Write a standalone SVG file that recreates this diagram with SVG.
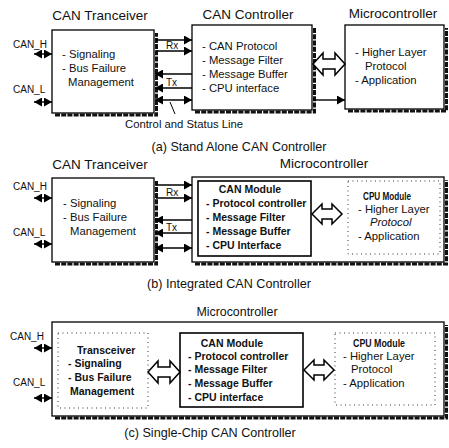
<svg xmlns="http://www.w3.org/2000/svg" width="449" height="448" viewBox="0 0 449 448">
<defs>
<marker id="ah" markerUnits="userSpaceOnUse" markerWidth="8" markerHeight="9" refX="8" refY="4.5" orient="auto-start-reverse">
<path d="M0,0 L8,4.5 L0,9 z" fill="#000"/>
</marker>
</defs>
<style>
text{font-family:"Liberation Sans",Arial,sans-serif;fill:#111}
.title{font-size:13.5px}
.cap{font-size:12.6px}
.body{font-size:11.3px}
.bold{font-size:10.5px;font-weight:bold}
.sig{font-size:10px}
.box{fill:#fff;stroke:#000;stroke-width:1.3}
.inner{fill:#fff;stroke:#000;stroke-width:1.6}
.dot{fill:none;stroke:#333;stroke-width:1;stroke-dasharray:1 3.5}
.shadow{fill:none;stroke:#111;stroke-width:3;stroke-dasharray:5 1.2}
.ln{stroke:#000;stroke-width:1.4;fill:none}
.blk{fill:#fff;stroke:#000;stroke-width:1.5;stroke-linejoin:miter}
</style>
<rect width="449" height="448" fill="#fff"/>

<!-- Panel (a) -->
<g id="a-transceiver">
<path class="shadow" d="M55,115 H156.5 V33"/>
<rect class="box" x="52" y="30" width="102" height="83"/>
<text class="title" x="100" y="20" text-anchor="middle">CAN Tranceiver</text>
<text class="body" x="62" y="58">- Signaling</text>
<text class="body" x="62" y="72">- Bus Failure</text>
<text class="body" x="68" y="86">Management</text>
</g>
<g id="a-controller">
<path class="shadow" d="M195,112 H314.5 V28"/>
<rect class="box" x="192" y="25" width="120" height="85"/>
<text class="title" x="248" y="19" text-anchor="middle">CAN Controller</text>
<text class="body" x="202" y="50">- CAN Protocol</text>
<text class="body" x="202" y="64">- Message Filter</text>
<text class="body" x="202" y="78">- Message Buffer</text>
<text class="body" x="202" y="92">- CPU interface</text>
</g>
<g id="a-micro">
<path class="shadow" d="M348,111 H446.5 V28"/>
<rect class="box" x="345" y="25" width="99" height="84"/>
<text class="title" x="393" y="18" text-anchor="middle">Microcontroller</text>
<text class="body" x="355" y="56">- Higher Layer</text>
<text class="body" x="365" y="70">Protocol</text>
<text class="body" x="355" y="84">- Application</text>
</g>
<text class="sig" x="13" y="48">CAN_H</text>
<text class="sig" x="13" y="93">CAN_L</text>
<text class="sig" x="166" y="49">Rx</text>
<text class="sig" x="166" y="86">Tx</text>
<text class="body" x="125" y="128">Control and Status Line</text>
<text class="cap" x="239" y="151" text-anchor="middle">(a) Stand Alone CAN Controller</text>

<!-- Panel (b) -->
<g id="b-transceiver">
<path class="shadow" d="M55,264 H156.5 V181"/>
<rect class="box" x="52" y="178" width="102" height="84"/>
<text class="title" x="100" y="169" text-anchor="middle">CAN Tranceiver</text>
<text class="body" x="63" y="207">- Signaling</text>
<text class="body" x="63" y="221">- Bus Failure</text>
<text class="body" x="70" y="235">Management</text>
</g>
<g id="b-micro">
<path class="shadow" d="M195,264 H446.5 V180"/>
<rect class="box" x="192" y="177" width="252" height="85"/>
<text class="title" x="324" y="168" text-anchor="middle">Microcontroller</text>
</g>
<g id="b-canmodule">
<rect class="inner" x="198" y="181" width="113" height="75"/>
<text class="bold" x="250" y="193" text-anchor="middle">CAN Module</text>
<text class="bold" x="206" y="207">- Protocol controller</text>
<text class="bold" x="206" y="221">- Message Filter</text>
<text class="bold" x="206" y="235">- Message Buffer</text>
<text class="bold" x="206" y="249">- CPU Interface</text>
</g>
<g id="b-cpumodule">
<rect class="dot" x="348" y="181" width="92" height="73"/>
<text class="bold" x="387" y="200" text-anchor="middle" textLength="48" lengthAdjust="spacingAndGlyphs">CPU Module</text>
<text class="body" x="358" y="213">- Higher Layer</text>
<text class="body" x="370" y="226" font-style="italic">Protocol</text>
<text class="body" x="358" y="240">- Application</text>
</g>
<text class="sig" x="13" y="190">CAN_H</text>
<text class="sig" x="13" y="236">CAN_L</text>
<text class="sig" x="166" y="196">Rx</text>
<text class="sig" x="166" y="231">Tx</text>
<text class="cap" x="229" y="288" text-anchor="middle">(b) Integrated CAN Controller</text>

<!-- Panel (c) -->
<g id="c-micro">
<path class="shadow" d="M55,418 H446.5 V325"/>
<rect class="box" x="52" y="322" width="392" height="94"/>
<text class="title" x="237" y="316" text-anchor="middle" style="font-size:12.4px">Microcontroller</text>
</g>
<g id="c-transceiver">
<rect class="dot" x="58" y="333" width="90" height="75"/>
<text class="bold" x="77" y="354">Transceiver</text>
<text class="bold" x="68" y="367">- Signaling</text>
<text class="bold" x="68" y="381">- Bus Failure</text>
<text class="bold" x="70" y="395">Management</text>
</g>
<g id="c-canmodule">
<rect class="inner" x="180" y="333" width="123" height="74"/>
<text class="bold" x="232" y="347" text-anchor="middle">CAN Module</text>
<text class="bold" x="188" y="360">- Protocol controller</text>
<text class="bold" x="188" y="373">- Message Filter</text>
<text class="bold" x="188" y="387">- Message Buffer</text>
<text class="bold" x="188" y="401">- CPU interface</text>
</g>
<g id="c-cpumodule">
<rect class="dot" x="335" y="333" width="100" height="72"/>
<text class="bold" x="379" y="347" text-anchor="middle" textLength="52" lengthAdjust="spacingAndGlyphs">CPU Module</text>
<text class="body" x="343" y="360">- Higher Layer</text>
<text class="body" x="351" y="373">Protocol</text>
<text class="body" x="343" y="387">- Application</text>
</g>
<text class="sig" x="10" y="340">CAN_H</text>
<text class="sig" x="13" y="386">CAN_L</text>
<text class="cap" x="210" y="437" text-anchor="middle">(c) Single-Chip CAN Controller</text>

<!-- Connectors -->
<g id="connectors">
<!-- (a) -->
<line class="ln" x1="34" y1="54" x2="52" y2="54" marker-start="url(#ah)" marker-end="url(#ah)"/>
<line class="ln" x1="34" y1="102" x2="52" y2="102" marker-start="url(#ah)" marker-end="url(#ah)"/>
<line class="ln" x1="156" y1="40" x2="192" y2="40" marker-end="url(#ah)"/>
<line class="ln" x1="156" y1="51" x2="192" y2="51" marker-end="url(#ah)"/>
<line class="ln" x1="192" y1="74" x2="155" y2="74" marker-end="url(#ah)"/>
<line class="ln" x1="192" y1="88" x2="155" y2="88" marker-end="url(#ah)"/>
<line class="ln" x1="155" y1="100" x2="192" y2="100" marker-start="url(#ah)" marker-end="url(#ah)"/>
<line class="ln" x1="313" y1="100" x2="345" y2="100" marker-end="url(#ah)"/>
<line class="ln" x1="170" y1="102" x2="175" y2="114" style="stroke-width:1"/>
<polygon class="blk" points="313,64 323,53 323,59 335,59 335,53 345,64 335,75 335,69 323,69 323,75"/>
<!-- (b) -->
<line class="ln" x1="34" y1="198" x2="52" y2="198" marker-start="url(#ah)" marker-end="url(#ah)"/>
<line class="ln" x1="34" y1="244" x2="52" y2="244" marker-start="url(#ah)" marker-end="url(#ah)"/>
<line class="ln" x1="156" y1="185" x2="192" y2="185" marker-end="url(#ah)"/>
<line class="ln" x1="156" y1="198" x2="192" y2="198" marker-end="url(#ah)"/>
<line class="ln" x1="192" y1="220" x2="155" y2="220" marker-end="url(#ah)"/>
<line class="ln" x1="192" y1="233" x2="155" y2="233" marker-end="url(#ah)"/>
<line class="ln" x1="155" y1="248" x2="192" y2="248" marker-start="url(#ah)" marker-end="url(#ah)"/>
<polygon class="blk" points="312,214 322,204 322,209 332,209 332,204 342,214 332,224 332,219 322,219 322,224"/>
<!-- (c) -->
<line class="ln" x1="34" y1="348" x2="52" y2="348" marker-start="url(#ah)" marker-end="url(#ah)"/>
<line class="ln" x1="34" y1="398" x2="52" y2="398" marker-start="url(#ah)" marker-end="url(#ah)"/>
<polygon class="blk" points="148,372 158,361 158,367 170,367 170,361 180,372 170,383 170,377 158,377 158,383"/>
<polygon class="blk" points="304,370 314,360 314,365 324,365 324,360 334,370 324,380 324,375 314,375 314,380"/>
</g>
</svg>
